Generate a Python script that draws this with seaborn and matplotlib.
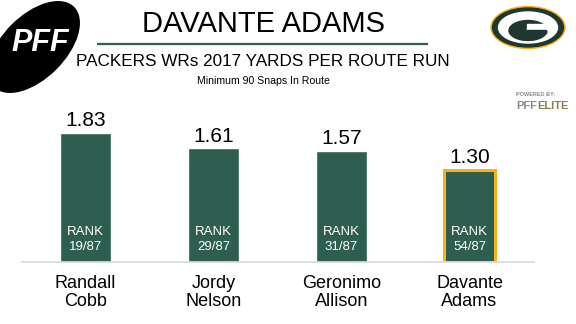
import matplotlib
matplotlib.use("Agg")
import matplotlib.pyplot as plt
from matplotlib.patches import Ellipse, Rectangle
import seaborn as sns
import pandas as pd

# ---- data ----
players = ["Randall\nCobb", "Jordy\nNelson", "Geronimo\nAllison", "Davante\nAdams"]
yprr = [1.83, 1.61, 1.57, 1.30]
ranks = ["19/87", "29/87", "31/87", "54/87"]
title = "DAVANTE ADAMS"
subtitle = "PACKERS WRs 2017 YARDS PER ROUTE RUN"
note = "Minimum 90 Snaps In Route"

GREEN = "#2D5E4F"
GOLD = "#F7B21B"
DKGREEN = "#203731"

sns.set_style("white")
plt.rcParams["font.family"] = ["Liberation Sans", "DejaVu Sans"]

W, H = 576, 324
fig = plt.figure(figsize=(W / 100, H / 100), dpi=100)
fig.patch.set_facecolor("white")

ax = fig.add_axes([21.5 / W, 62 / H, 512 / W, 141 / H])
df = pd.DataFrame({"player": players, "yprr": yprr})
sns.barplot(data=df, x="player", y="yprr", hue="player",
            palette=[GREEN] * len(players), width=0.4, legend=False,
            ax=ax, saturation=1)
ax.set_xlim(-0.5, 3.5)
ax.set_ylim(0, 2.0)
ax.set_xlabel("")
ax.set_ylabel("")
ax.set_yticks([])
for s in ["top", "left", "right"]:
    ax.spines[s].set_visible(False)
ax.spines["bottom"].set_color("#D9D9D9")
ax.spines["bottom"].set_linewidth(1.2)
ax.tick_params(axis="x", length=0, pad=9, labelsize=13, colors="black")
for lab in ax.get_xticklabels():
    lab.set_linespacing(1.1)

# highlight last bar
patches = sorted(ax.patches, key=lambda p: p.get_x())
last = patches[-1]
last.set_edgecolor(GOLD)
last.set_linewidth(2.2)

for i, (v, r) in enumerate(zip(yprr, ranks)):
    ax.annotate(f"{v:.2f}", xy=(i, v), xytext=(0, 5), textcoords="offset points",
                ha="center", va="baseline", fontsize=15, color="black")
    ax.annotate("RANK", xy=(i, 0), xytext=(0, 21.5), textcoords="offset points",
                ha="center", va="center", fontsize=9.5, color="white")
    ax.annotate(r, xy=(i, 0), xytext=(0, 10.8), textcoords="offset points",
                ha="center", va="center", fontsize=9.5, color="white")

# ---- overlay in pixel coordinates for header & logos ----
ov = fig.add_axes([0, 0, 1, 1], zorder=5)
ov.set_xlim(0, W)
ov.set_ylim(H, 0)
ov.axis("off")
ov.patch.set_alpha(0)

ov.text(264, 24, title, ha="center", va="center", fontsize=21, color="black")
ov.plot([97, 428], [43.5, 43.5], color=GREEN, lw=1.6, solid_capstyle="butt")
ov.text(263, 62, subtitle, ha="center", va="center", fontsize=12.3, color="black")
ov.text(263, 80.5, note, ha="center", va="center", fontsize=7.6, color="black")

# PFF logo
ov.add_patch(Ellipse((34, 47), 112, 62, angle=-45, color="black"))
ov.text(40, 43, "PFF", ha="center", va="center", fontsize=22, color="white",
        fontweight="heavy", fontstyle="italic")

# Packers logo
ov.add_patch(Ellipse((528, 27.5), 74, 42, color=GOLD))
ov.add_patch(Ellipse((528, 27.5), 71, 39, color=DKGREEN))
ov.add_patch(Ellipse((528, 27.5), 59, 31, color="white"))
ov.add_patch(Ellipse((528, 30.5), 38, 20, color=DKGREEN))
ov.add_patch(Rectangle((527, 24), 22, 5.5, color="white"))
ov.add_patch(Rectangle((527, 29.5), 19, 3.5, color=DKGREEN))

# Powered by PFF Elite
ov.text(516, 94.5, "POWERED BY:", ha="left", va="center", fontsize=4, color="#8A8A8A",
        fontweight="bold")
ov.text(516, 106, "PFF", ha="left", va="center", fontsize=8, color="#8A8A8A",
        fontweight="bold")
ov.text(537, 106, "ELITE", ha="left", va="center", fontsize=8, color="#8C7E4F",
        fontweight="bold")

fig.savefig("out.png", dpi=100, facecolor="white")
